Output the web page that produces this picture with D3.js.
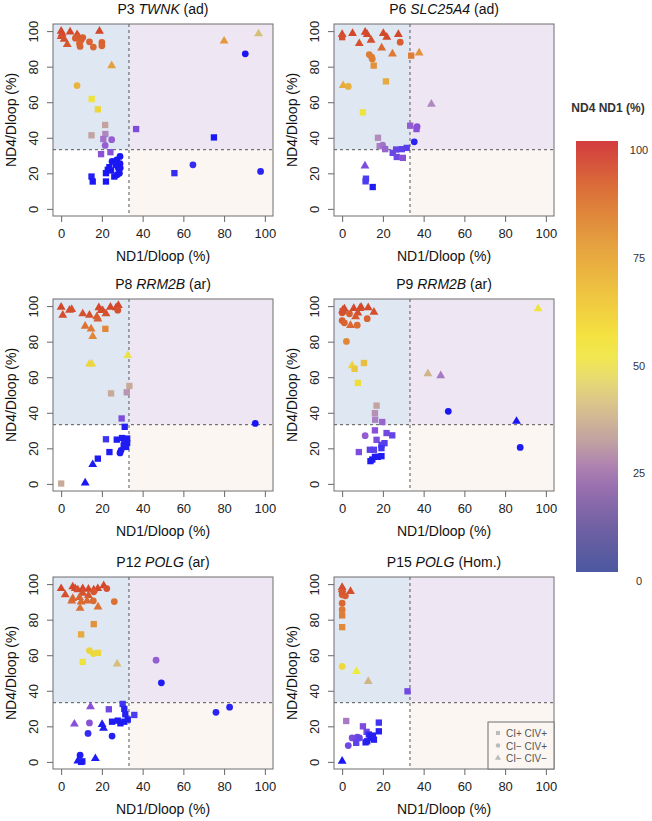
<!DOCTYPE html>
<html>
<head>
<meta charset="utf-8">
<script src="https://cdn.jsdelivr.net/npm/d3@7"></script>
<style>
  body { margin: 0; background: #fff; }
  svg { font-family: "Liberation Sans", Arial, Helvetica, sans-serif; }
  .tick line { stroke: #666; }
  .tick text { fill: #222; font-size: 13px; }
</style>
</head>
<body>
<svg id="chart" width="652" height="821"></svg>
<script>
// points: [ND1/Dloop %, ND4/Dloop %, type, ND4 ND1 level %]
// type: s = CI+ CIV+, c = CI- CIV+, t = CI- CIV-
const p3Points = [
  [0,100,'t',95],[0.5,98.6,'t',95],[4.4,99.6,'t',95],[0,97,'t',93],[7.8,98,'t',93],[8.5,97,'t',90],
  [18.8,100,'t',95],[3,92.5,'t',90],[1.5,95.5,'t',92],
  [10.6,96.4,'c',88],[9.8,95,'c',88],[13.9,94,'c',86],[20,93.6,'c',86],[20,91.7,'c',86],[15.8,91,'c',85],
  [9,93,'c',86],[9.3,91.4,'c',86],[7,96,'c',88],
  [24.8,80.6,'t',68],[7.8,69.4,'c',62],[15,61.8,'s',52],[18,56,'s',55],
  [21.6,47.2,'s',36],[14.9,41.4,'s',36],[21.7,42.1,'s',30],[20.7,39.3,'s',27],[24.8,38.9,'c',24],
  [21.6,35.7,'c',24],[19.6,30.8,'s',22],[24.2,31.9,'s',22],[36.8,44.9,'s',20],
  [25,26.7,'c',3],[27.3,27.6,'c',3],[28.9,29.5,'c',3],[22.9,22,'s',3],[22,20.1,'s',3],[24.5,21.6,'s',3],
  [27,24.8,'s',3],[28.1,22.9,'c',3],[28.6,20.1,'c',3],[27.5,19.2,'c',3],[26.1,18.2,'s',3],[23.7,23.5,'s',3],
  [28.9,25.4,'c',3],[29,23,'c',3],[14.9,18.2,'s',5],[15.5,15.4,'s',3],[22,15.4,'s',3],
  [55.6,20.1,'s',8],[64.7,24.8,'c',8],[75,40.2,'s',3],[90.4,87.2,'c',3],[97.9,21.1,'c',6],
  [80,94.4,'t',70],[96.9,98.5,'t',42]
];

const p6Points = [
  [0,98.1,'t',95],[0,96.6,'s',93],[5.1,98.7,'t',95],[11.3,99.4,'t',95],[12.3,98.1,'t',95],[14.2,94.9,'t',93],
  [8.4,93,'t',92],[20.2,98.7,'t',95],[21.9,96.6,'t',95],[27.6,98.1,'t',95],[28.5,93.8,'c',88],
  [19.4,90.6,'t',85],[24.7,87.2,'t',80],[13.3,86.8,'c',78],[14.5,85.3,'c',78],[14.8,84.3,'c',78],
  [15.5,80.6,'s',72],[33.9,86.2,'s',78],[37.8,87.7,'t',72],[0.5,69.4,'t',65],[3,68.9,'c',63],
  [21.5,71.7,'s',65],[10.2,54.3,'s',52],[43.8,58.9,'t',30],[17.6,40,'s',31],[18.4,35.3,'s',29],
  [19.9,35.8,'c',27],[21.1,33.6,'s',25],[33.4,46.8,'s',24],[36.8,46.2,'c',22],[36.5,44.9,'s',22],
  [35.4,37.7,'c',6],[31.7,34.3,'s',14],[29.3,33.6,'s',15],[26.5,33.4,'s',16],[24.8,31.5,'s',17],
  [26.8,29.2,'s',18],[29.8,28.7,'s',22],[11.2,24.2,'t',20],[11.7,17,'s',12],[11.5,15.5,'s',12],[15,12.3,'s',4]
];

const p8Points = [
  [0,99.4,'t',95],[0.8,94.9,'t',93],[4.1,97.7,'t',93],[5.2,98.1,'t',93],[10.6,95.7,'t',92],[13.9,94.9,'t',92],
  [18.5,99.1,'t',95],[19.6,97.5,'t',94],[20.4,97.5,'t',94],[22,95.8,'t',92],[24.2,99.4,'t',95],[27,99.1,'t',95],
  [28.1,100.4,'t',95],[27.8,97.7,'c',92],[17.5,94,'t',90],[18,92.8,'t',88],[11.8,88.7,'t',82],[14.7,87.2,'t',80],
  [15.5,83,'t',75],[21.7,87.2,'s',75],[13.9,67.4,'t',55],[15,67.5,'t',55],[32.7,72.3,'t',48],
  [24.5,50.9,'s',38],[32.2,51.5,'s',33],[33.5,55.1,'s',38],[29.7,36.8,'s',20],[31.2,32.1,'s',5],
  [22,25.1,'s',10],[27.3,24.9,'s',4],[29.9,25.8,'s',4],[32.4,25.5,'s',4],[31,22.3,'s',4],[32.4,23,'s',4],
  [30.7,21.5,'s',4],[31.9,20.8,'s',4],[29.4,18.9,'c',4],[28.9,17.4,'c',4],[23.7,17.9,'s',4],[18,14.2,'s',4],
  [15.5,10.9,'t',4],[11.8,0.6,'t',3],[95.3,34,'c',3],[0,0.2,'s',38]
];

const p9Points = [
  [0.3,97.7,'t',95],[1.1,98.5,'t',95],[5.7,98.7,'t',95],[8.7,98.7,'t',95],[9.3,99.4,'t',95],[12.8,99.1,'t',95],
  [15.6,96.6,'t',93],[7.7,96.2,'t',93],[6.6,94,'t',90],[4.1,89.1,'t',85],[0,96.2,'c',90],[0,91.9,'c',88],
  [1.1,90.6,'c',86],[3.6,95.7,'c',88],[7.4,89.3,'c',84],[12.3,92.9,'c',86],[0.3,97.2,'s',93],[2.1,80.1,'c',75],
  [4.9,66.5,'t',55],[6.1,64.7,'s',58],[10.7,68,'s',60],[7.7,56.8,'s',53],[96.2,98.5,'t',52],[42.1,62,'t',40],
  [48.4,60.9,'t',28],[52.1,40.8,'c',3],[85.6,35.2,'t',3],[87.4,20.5,'c',4],[16.9,44,'s',36],[16.1,39.8,'s',32],
  [16.2,36.1,'s',29],[19.7,34.8,'s',25],[16.1,30.1,'s',22],[11.3,27.1,'c',24],[16.9,24.8,'s',20],
  [21.8,28.6,'s',18],[24.6,27.3,'s',16],[8.2,17.9,'s',20],[13.6,19.2,'s',15],[15.6,19.2,'s',14],
  [19.3,22,'s',14],[20.8,22.9,'s',14],[19.3,20.1,'s',10],[13.9,12.8,'s',4],[14.8,13.7,'s',4],[16.1,15.2,'s',4],
  [17.5,15.2,'s',4],[19.3,15.6,'s',4]
];

const p12Points = [
  [0,97.5,'t',95],[2,94,'t',92],[5.7,98.5,'t',95],[6.9,97.5,'t',95],[8.2,96.8,'t',93],[10.6,97.5,'t',95],
  [13.4,97.2,'t',95],[16,96.8,'t',95],[18,97.5,'t',95],[20.9,99.1,'t',95],[22.4,97.5,'c',92],[10.6,94.9,'t',92],
  [13.4,93.6,'t',90],[16,95.7,'c',90],[5.2,90.6,'t',85],[5.7,92,'t',85],[9,92.5,'t',86],[9.8,90,'t',84],
  [12.7,90.6,'t',85],[9.3,86.4,'t',82],[18.1,87.2,'t',82],[15.8,90.6,'c',84],[26.1,90.2,'c',82],
  [16,77.5,'s',72],[9.8,71.7,'s',65],[13.9,62.6,'c',55],[15.8,60.9,'c',54],[18.1,61.3,'s',54],[10.6,56.2,'s',52],
  [27.5,55.1,'t',42],[46.6,57.2,'c',24],[49.2,44.5,'c',4],[30.2,32.6,'s',10],[31,29.8,'s',6],[31.5,26.8,'s',5],
  [35.9,26.4,'s',12],[14.4,31.1,'t',22],[23.4,29.6,'s',18],[6.5,21.3,'t',22],[13.9,21.9,'c',22],
  [20.1,21.1,'t',4],[20.8,18.9,'t',4],[25,22.6,'s',4],[27.8,23.2,'s',4],[29.1,21.7,'s',4],[31,22.6,'s',4],
  [32.7,23.8,'s',4],[13.2,16,'c',8],[25,14.5,'c',5],[9.3,3.8,'c',4],[8.2,0.6,'t',4],[9.8,0,'s',4],
  [10.4,0.3,'s',4],[16.8,1.9,'t',4],[76,27.9,'c',6],[82.7,30.8,'c',6]
];

const p15Points = [
  [0,98.1,'t',95],[0,96.8,'t',93],[4.1,95.9,'t',93],[0,94,'c',88],[1.6,93.4,'c',88],[0,95.5,'s',90],
  [0,89.3,'c',85],[0,85.6,'c',80],[0,82.4,'s',78],[0,75.8,'s',74],[0,53.7,'c',54],[7,50.9,'t',50],
  [12.8,45.3,'t',40],[32.1,39.7,'s',18],[2,23,'s',28],[10.2,20,'s',20],[12,16.9,'s',18],[18,17.2,'s',5],
  [18,22.1,'s',10],[4.9,13.5,'c',20],[7.4,13.9,'c',18],[8.5,13.5,'c',16],[3,9.2,'c',18],[6.9,10.7,'s',15],
  [11.5,11,'s',5],[12.3,11.6,'s',5],[13.1,15.4,'s',8],[13.9,14.4,'s',5],[14.8,13.5,'s',5],[15.6,12.5,'s',5],
  [15.1,14.8,'s',5],[0,0.4,'t',3]
];

const panelIds = ["P3", "P6", "P8", "P9", "P12", "P15"];
const panelGenes = ["TWNK", "SLC25A4", "RRM2B", "RRM2B", "POLG", "POLG"];
const panelModes = ["(ad)", "(ad)", "(ar)", "(ar)", "(ar)", "(Hom.)"];
const panelPoints = [p3Points, p6Points, p8Points, p9Points, p12Points, p15Points];

const axisTicks = [0, 20, 40, 60, 80, 100];
const threshold = 33.3;
const legendLabels = ["CI+ CIV+", "CI\u2212 CIV+", "CI\u2212 CIV\u2212"];
const legendTypes = ["s", "c", "t"];
const colorbarTicks = [0, 25, 50, 75, 100];

// layout
const svg = d3.select("#chart");
const colLeft = [53, 334];
const rowTop = [24, 299, 577];
const w = 220, h = 192;

const pointColor = d3.scaleLinear()
    .domain([0, 12, 22, 30, 38, 50, 62, 75, 88, 100])
    .range(["#0a0af5", "#4a3cf0", "#8a50d8", "#b088c0", "#c9aa98", "#f0ec3c",
            "#e8b440", "#e08838", "#d85e30", "#d03828"]);

const symbolType = {s: d3.symbolSquare, c: d3.symbolCircle, t: d3.symbolTriangle};
const symbolSize = {s: 40, c: 36, t: 34};

panelPoints.forEach((pts, i) => {
    const left = colLeft[i % 2], top = rowTop[Math.floor(i / 2)];
    const g = svg.append("g").attr("transform", `translate(${left},${top})`);

    const x = d3.scaleLinear().domain([-4, 104]).range([0, w]);
    const y = d3.scaleLinear().domain([-4, 104]).range([h, 0]);

    // quadrant backgrounds
    g.append("rect").attr("x", 0).attr("y", 0)
        .attr("width", x(threshold)).attr("height", y(threshold)).attr("fill", "#dee7f2");
    g.append("rect").attr("x", x(threshold)).attr("y", 0)
        .attr("width", w - x(threshold)).attr("height", y(threshold)).attr("fill", "#eee7f3");
    g.append("rect").attr("x", x(threshold)).attr("y", y(threshold))
        .attr("width", w - x(threshold)).attr("height", h - y(threshold)).attr("fill", "#fbf6f2");

    g.append("line").attr("x1", x(threshold)).attr("x2", x(threshold)).attr("y1", 0).attr("y2", h)
        .attr("stroke", "#555").attr("stroke-dasharray", "3,3");
    g.append("line").attr("x1", 0).attr("x2", w).attr("y1", y(threshold)).attr("y2", y(threshold))
        .attr("stroke", "#555").attr("stroke-dasharray", "3,3");

    // axes
    const xAxis = g.append("g").attr("transform", `translate(0,${h})`)
        .call(d3.axisBottom(x).tickValues(axisTicks).tickSize(6).tickPadding(7).tickSizeOuter(0));
    xAxis.select(".domain").remove();

    const yAxis = g.append("g")
        .call(d3.axisLeft(y).tickValues(axisTicks).tickSize(6).tickSizeOuter(0));
    yAxis.select(".domain").remove();
    yAxis.selectAll("text")
        .attr("transform", "rotate(-90)")
        .attr("x", 0).attr("y", -15).attr("dy", 0)
        .style("text-anchor", "middle");
    g.selectAll(".tick text").style("font-family", "Liberation Sans, Arial, sans-serif");

    g.append("rect").attr("width", w).attr("height", h)
        .attr("fill", "none").attr("stroke", "#6e6e6e").attr("stroke-width", 1);

    // points
    g.selectAll(".pt")
        .data(pts)
        .enter().append("path")
        .attr("class", "pt")
        .attr("transform", d => `translate(${x(d[0])},${y(d[1])})`)
        .attr("d", d => d3.symbol().type(symbolType[d[2]]).size(symbolSize[d[2]])())
        .attr("fill", d => pointColor(d[3]));

    // title
    const title = g.append("text")
        .attr("x", w / 2).attr("y", -10)
        .attr("text-anchor", "middle")
        .style("font-size", "14px").attr("fill", "#111");
    title.append("tspan").text(panelIds[i] + " ");
    title.append("tspan").style("font-style", "italic").text(panelGenes[i]);
    title.append("tspan").text(" " + panelModes[i]);

    g.append("text")
        .attr("x", w / 2).attr("y", h + 45)
        .attr("text-anchor", "middle")
        .style("font-size", "14px").attr("fill", "#111")
        .text("ND1/Dloop (%)");

    g.append("text")
        .attr("transform", `translate(-37,${h / 2}) rotate(-90)`)
        .attr("text-anchor", "middle")
        .style("font-size", "14px").attr("fill", "#111")
        .text("ND4/Dloop (%)");

    // legend only in last panel
    if (i === 5) {
        const lg = g.append("g").attr("transform", `translate(${w - 66},${h - 47})`);
        lg.append("rect").attr("width", 66).attr("height", 47)
            .attr("fill", "#fbf6f2").attr("stroke", "#6e6e6e");
        legendLabels.forEach((lab, k) => {
            lg.append("path")
                .attr("transform", `translate(10,${11 + k * 12.5})`)
                .attr("d", d3.symbol().type(symbolType[legendTypes[k]]).size(16)())
                .attr("fill", "#bbb");
            lg.append("text")
                .attr("x", 18).attr("y", 15 + k * 12.5)
                .style("font-size", "10px").attr("fill", "#555")
                .text(lab);
        });
    }
});

// colour bar
const cbTop = 141, cbBottom = 572, cbX = 576, cbW = 42;
const cb = d3.scaleLinear().domain([0, 100]).range([cbBottom, cbTop]);
const barColor = d3.scaleLinear()
    .domain([0, 10, 20, 25, 30, 38, 45, 52, 62, 75, 88, 100])
    .range(["#4c58a0", "#6e60a2", "#9a70b0", "#b084b0", "#c0a0a2", "#d8c090", "#e8dc70",
            "#f5ec42", "#f0cc40", "#e6a440", "#dc7438", "#d23c3e"]);

const grad = svg.append("defs").append("linearGradient")
    .attr("id", "cbgrad").attr("x1", 0).attr("y1", 1).attr("x2", 0).attr("y2", 0);
d3.range(0, 101, 5).forEach(v => {
    grad.append("stop").attr("offset", v + "%").attr("stop-color", barColor(v));
});
svg.append("rect").attr("x", cbX).attr("y", cb(100))
    .attr("width", cbW).attr("height", cb(0) - cb(100))
    .attr("fill", "url(#cbgrad)");

svg.selectAll(".cbtick")
    .data(colorbarTicks)
    .enter().append("text")
    .attr("class", "cbtick")
    .attr("x", 639).attr("y", d => cb(d) + 13)
    .attr("text-anchor", "middle")
    .style("font-size", "11px").attr("fill", "#333")
    .text(d => d);

svg.append("text")
    .attr("x", 608).attr("y", 112)
    .attr("text-anchor", "middle")
    .style("font-size", "12px").style("font-weight", "bold").attr("fill", "#333")
    .text("ND4 ND1 (%)");
</script>
</body>
</html>
